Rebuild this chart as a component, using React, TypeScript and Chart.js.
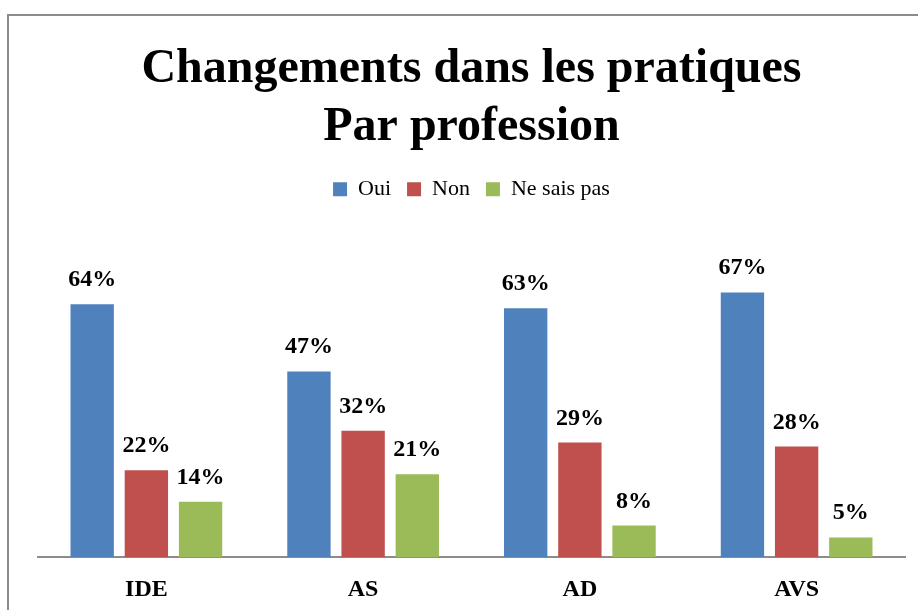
import React, { useEffect, useRef } from "react";
import { Chart, registerables } from "chart.js";

Chart.register(...registerables);

const categories = ["IDE", "AS", "AD", "AVS"];
const seriesNames = ["Oui", "Non", "Ne sais pas"];
const oui = [64, 47, 63, 67];
const non = [22, 32, 29, 28];
const nsp = [14, 21, 8, 5];
const colors = ["#4F81BD", "#C0504D", "#9BBB59"];
const titleLines = ["Changements dans les pratiques", "Par profession"];

const SERIF = "'Liberation Serif', 'Times New Roman', serif";

const borderPlugin = {
  id: "frameBorder",
  beforeDraw(chart: any) {
    const ctx = chart.ctx;
    ctx.save();
    ctx.strokeStyle = "#8c8c8c";
    ctx.lineWidth = 2;
    ctx.beginPath();
    ctx.moveTo(8, 700);
    ctx.lineTo(8, 15);
    ctx.lineTo(1000, 15);
    ctx.stroke();
    ctx.restore();
  },
};

const labelPlugin = {
  id: "barLabels",
  afterDatasetsDraw(chart: any) {
    const ctx = chart.ctx;
    ctx.save();
    ctx.font = `bold 24px ${SERIF}`;
    ctx.fillStyle = "#000";
    ctx.textAlign = "center";
    ctx.textBaseline = "alphabetic";
    chart.data.datasets.forEach((ds: any, i: number) => {
      const meta = chart.getDatasetMeta(i);
      meta.data.forEach((el: any, j: number) => {
        ctx.fillText(ds.data[j] + "%", el.x, el.y - 18);
      });
    });
    ctx.restore();
  },
};

export default function App() {
  const ref = useRef<HTMLCanvasElement>(null);
  useEffect(() => {
    if (!ref.current) return;
    const chart = new Chart(ref.current, {
      type: "bar",
      data: {
        labels: categories,
        datasets: [oui, non, nsp].map((d, i) => ({
          label: seriesNames[i],
          data: d,
          backgroundColor: colors[i],
          borderWidth: 0,
          categoryPercentage: 0.75,
          barPercentage: 0.8,
        })),
      },
      options: {
        responsive: false,
        animation: false,
        layout: { padding: { left: 38, right: 13, top: 0, bottom: -12 } },
        plugins: {
          title: {
            display: true,
            text: titleLines,
            color: "#000",
            font: { family: SERIF, size: 48, weight: "bold", lineHeight: 1.2 },
            padding: { top: 41, bottom: 6 },
          },
          legend: {
            display: true,
            labels: {
              color: "#000",
              font: { family: SERIF, size: 22 },
              boxWidth: 14,
              boxHeight: 14,
              padding: 16,
            },
          },
          tooltip: { enabled: false },
        },
        scales: {
          x: {
            grid: { display: false, drawTicks: false },
            border: { display: true, color: "#8c8c8c", width: 2 },
            ticks: {
              color: "#000",
              padding: 18,
              font: { family: SERIF, size: 24, weight: "bold" },
            },
          },
          y: {
            display: false,
            min: 0,
            max: 87.8,
          },
        },
      },
      plugins: [borderPlugin, labelPlugin],
    });
    return () => chart.destroy();
  }, []);
  return (
    <div style={{ position: "fixed", left: 0, top: 0, width: 918, height: 610, background: "#fff" }}>
      <canvas ref={ref} width={918} height={610} style={{ display: "block" }} />
    </div>
  );
}
